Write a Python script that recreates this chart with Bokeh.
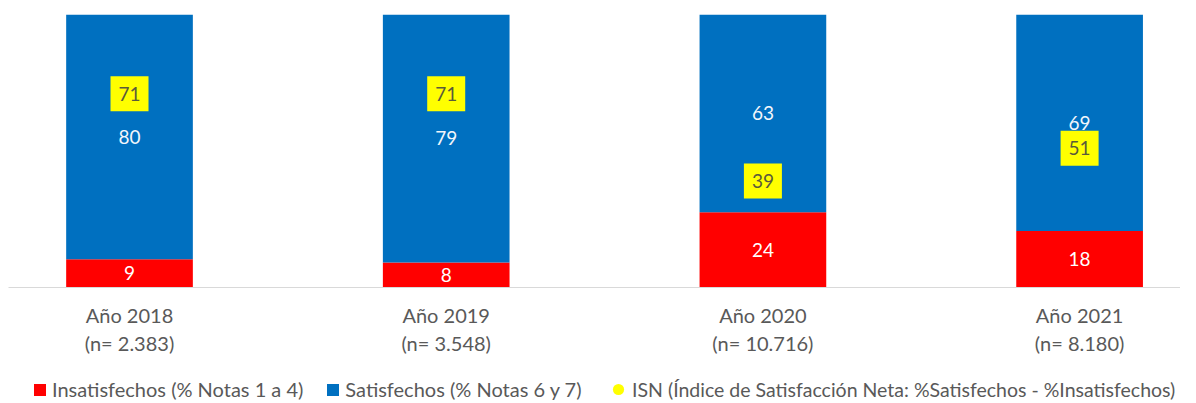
from bokeh.plotting import figure
from bokeh.layouts import column
from bokeh.models import Range1d, FixedTicker, Legend, LegendItem, ColumnDataSource
from bokeh.core.properties import value
from bokeh.embed import file_html
from bokeh.resources import INLINE

# ---- data ----
years = ["Año 2018", "Año 2019", "Año 2020", "Año 2021"]
n_labels = ["(n= 2.383)", "(n= 3.548)", "(n= 10.716)", "(n= 8.180)"]
insatisfechos = [9, 8, 24, 18]
satisfechos = [80, 79, 63, 69]
isn = [71, 71, 39, 51]

legend_labels = ["Insatisfechos (% Notas 1 a 4)",
                 "Satisfechos (% Notas 6 y 7)",
                 "ISN (Índice de Satisfacción Neta: %Satisfechos - %Insatisfechos)"]

Y_MAX = 87
FONT = "Lato"
RED = "#FF0000"
BLUE = "#0070C0"
YELLOW = "#FFFF00"
GRAY = "#595959"

xs = list(range(len(years)))
tops = [a + b for a, b in zip(insatisfechos, satisfechos)]
red_mid = [a / 2 for a in insatisfechos]
blue_mid = [(a + min(t, Y_MAX)) / 2 for a, t in zip(insatisfechos, tops)]

src = ColumnDataSource(dict(
    x=xs, insat=insatisfechos, sat=satisfechos, top=tops,
    red_mid=red_mid, blue_mid=blue_mid, isn=isn,
    insat_txt=[str(v) for v in insatisfechos],
    sat_txt=[str(v) for v in satisfechos],
    isn_txt=[str(v) for v in isn],
))

p = figure(width=1180, height=362, output_backend="svg", toolbar_location=None,
           x_range=Range1d(-0.3821, 3.3186), y_range=Range1d(0, Y_MAX),
           y_axis_location=None, min_border_left=8, min_border_right=0,
           min_border_top=14, min_border_bottom=75)
p.extra_y_ranges = {"isn": Range1d(0, 100)}
p.outline_line_color = None
p.xgrid.visible = False
p.ygrid.visible = False

r_red = p.vbar(x="x", bottom=0, top="insat", width=0.4, source=src,
               fill_color=RED, line_color=None)
r_blue = p.vbar(x="x", bottom="insat", top="top", width=0.4, source=src,
                fill_color=BLUE, line_color=None)

p.text(x="x", y="red_mid", text="insat_txt", source=src, text_color="white",
       text_font=value(FONT), text_font_size="19px", text_align="center",
       text_baseline="middle")
p.text(x="x", y="blue_mid", text="sat_txt", source=src, text_color="#f2f6fb",
       text_font=value(FONT), text_font_size="19px", text_align="center",
       text_baseline="middle")

p.rect(x="x", y="isn", width=38, height=35, width_units="screen",
       height_units="screen", source=src, y_range_name="isn",
       fill_color=YELLOW, line_color=None)
p.text(x="x", y="isn", text="isn_txt", source=src, y_range_name="isn",
       text_color="#5a5a3c", text_font=value(FONT), text_font_size="19px",
       text_align="center", text_baseline="middle")

ax = p.xaxis[0]
ax.ticker = FixedTicker(ticks=xs)
ax.major_label_overrides = {x: f"{y}\n{n}" for x, y, n in zip(xs, years, n_labels)}
ax.major_label_text_font = FONT
ax.major_label_text_font_size = "20px"
ax.major_label_text_color = GRAY
ax.major_label_text_line_height = 1.19
ax.major_label_standoff = 9
ax.major_tick_line_color = None
ax.minor_tick_line_color = None
ax.axis_line_color = "#d9d9d9"
ax.axis_line_width = 1

# ---- legend strip ----
lf = figure(width=1180, height=39, output_backend="svg", toolbar_location=None,
            x_range=Range1d(0, 1), y_range=Range1d(0, 1),
            x_axis_location=None, y_axis_location=None,
            min_border=0)
lf.outline_line_color = None
lf.xgrid.visible = False
lf.ygrid.visible = False
l_red = lf.vbar(x=[-5], top=[-5], width=0.1, fill_color=RED, line_color=None)
l_blue = lf.vbar(x=[-5], top=[-5], width=0.1, fill_color=BLUE, line_color=None)
l_isn = lf.scatter(x=[-5], y=[-5], marker="circle", size=10, fill_color=YELLOW, line_color=None)


def make_legend(items, loc, gw, standoff, fs):
    return Legend(items=items, location=loc, orientation="horizontal",
                  glyph_width=gw, glyph_height=gw, label_standoff=standoff,
                  spacing=22, padding=0, margin=0, label_height=20,
                  label_text_font=FONT, label_text_font_size=fs,
                  label_text_color=GRAY, border_line_color=None,
                  background_fill_alpha=0)


leg1 = make_legend([LegendItem(label=legend_labels[0], renderers=[l_red]),
                    LegendItem(label=legend_labels[1], renderers=[l_blue])],
                   (24, 0), 15, 5, "20px")
leg2 = make_legend([LegendItem(label=legend_labels[2], renderers=[l_isn])],
                   (596, -2), 28, 0, "19.5px")
lf.add_layout(leg1, "center")
lf.add_layout(leg2, "center")

layout = column(p, lf, spacing=0)
open("out.html", "w").write(file_html(layout, INLINE))
